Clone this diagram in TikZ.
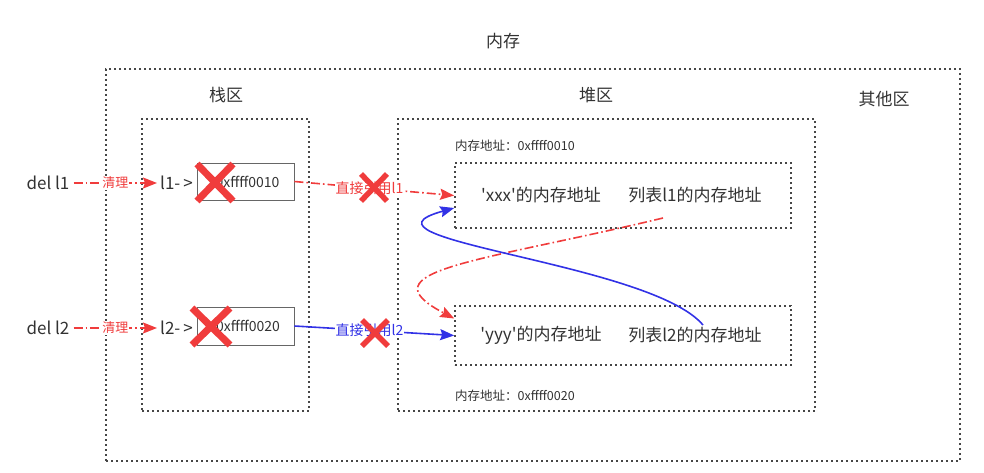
\documentclass[tikz,border=0pt]{standalone}
\usepackage{fontspec}
\newfontfamily\cjk{Noto Sans CJK SC}
\usetikzlibrary{arrows.meta}
\definecolor{rd}{RGB}{240,60,60}
\definecolor{bl}{RGB}{50,50,230}
\definecolor{dt}{RGB}{70,70,70}
\definecolor{tx}{RGB}{50,50,50}
\begin{document}
\cjk
\begin{tikzpicture}[x=1pt,y=-1pt,
  dotbox/.style={draw=dt, line width=1.6pt, dash pattern=on 1.6pt off 3.4pt, inner sep=0pt},
  membox/.style={draw=gray!80!black, line width=0.9pt, inner sep=0pt, minimum width=97pt},
  big/.style={text=tx, inner sep=0pt, font=\cjk\fontsize{17}{20}\selectfont},
  small/.style={text=tx, inner sep=0pt, font=\cjk\fontsize{12.5}{15}\selectfont},
  redline/.style={draw=rd, line width=1.6pt, dash pattern=on 9pt off 3pt on 1.6pt off 3pt, -{Stealth[length=14pt,width=11pt,inset=2pt]}},
  blueline/.style={draw=bl, line width=1.6pt, -{Stealth[length=14pt,width=11pt,inset=2pt]}},
  redlbl/.style={text=rd, fill=white, inner sep=1pt},
  bluelbl/.style={text=bl, fill=white, inner sep=1pt},
  xline/.style={draw=rd, line width=#1, line cap=butt},
  xline/.default=7pt
]
\useasboundingbox (0,0) rectangle (984,472);

% frames
\node[dotbox, minimum width=854pt, minimum height=392pt] (mem) at (533,265) {};
\node[big] (memt) at (503,41) {内存};
\node[dotbox, minimum width=167pt, minimum height=292pt] (stack) at (225.5,265) {};
\node[big] (stackt) at (226,95) {栈区};
\node[dotbox, minimum width=417pt, minimum height=292pt] (heap) at (606.5,265) {};
\node[big] (heapt) at (596,95) {堆区};
\node[big] (othert) at (884,99) {其他区};

% heap inner boxes
\node[dotbox, minimum width=336pt, minimum height=65pt] (in1) at (623,195.5) {};
\node[dotbox, minimum width=336pt, minimum height=59pt] (in2) at (623,335.5) {};
\node[small, anchor=west] (a1) at (455,146) {内存地址：0xffff0010};
\node[small, anchor=west] (a2) at (455,396) {内存地址：0xffff0020};
\node[big] (x1) at (541,195) {'xxx'的内存地址};
\node[big] (l1t) at (695,195) {列表l1的内存地址};
\node[big] (y1) at (541,335) {'yyy'的内存地址};
\node[big] (l2t) at (695,335) {列表l2的内存地址};

% stack
\node[membox, minimum height=37pt, font=\cjk\fontsize{14}{16}\selectfont, text=tx] (b1) at (245.5,181.5) {\hspace*{4pt}0xffff0010};
\node[membox, minimum height=38pt, font=\cjk\fontsize{14}{16}\selectfont, text=tx] (b2) at (245.5,326) {\hspace*{5pt}0xffff0020};
\node[big, anchor=east] (p1) at (193,183) {l1-\hspace{3pt}>};
\node[big, anchor=east] (p2) at (193,328) {l2-\hspace{3pt}>};
\node[big] (d1) at (48,183) {del l1};
\node[big] (d2) at (48,328) {del l2};

% del arrows
\draw[redline] (d1.east) ++(4,0) coordinate (d1s) (d1s) -- node[redlbl, font=\cjk\fontsize{13}{15}\selectfont] {清理} ([xshift=-3pt]p1.west);
\draw[redline] (d2.east) ++(4,0) coordinate (d2s) (d2s) -- node[redlbl, font=\cjk\fontsize{13}{15}\selectfont] {清理} ([xshift=-3pt]p2.west);

% references
\draw[redline] (b1.east) -- node[redlbl, pos=0.47, font=\cjk\fontsize{14}{16}\selectfont] (r1) {直接引用l1} (in1.west);
\draw[blueline] (b2.east) -- node[bluelbl, pos=0.47, font=\cjk\fontsize{14}{16}\selectfont] (r2) {直接引用l2} (in2.west);

% cross references
\coordinate (c1) at (663,218);
\coordinate (c2) at (703,325);
\draw[redline] (c1) .. controls (480,262) and (362,270) .. ([yshift=17pt]in2.west);
\draw[blueline] (c2) .. controls (650,262) and (338,240) .. ([yshift=-12.5pt]in1.west);

% crosses
\draw[xline] (197,164) -- (233,201) (197,201) -- (233,164);
\draw[xline] (192,308) -- (230,345) (192,345) -- (230,308);
\draw[xline=5.5pt] (361,174) -- (387,201) (361,201) -- (387,174);
\draw[xline=5.5pt] (362,320) -- (388,346) (362,346) -- (388,320);
\end{tikzpicture}
\end{document}
